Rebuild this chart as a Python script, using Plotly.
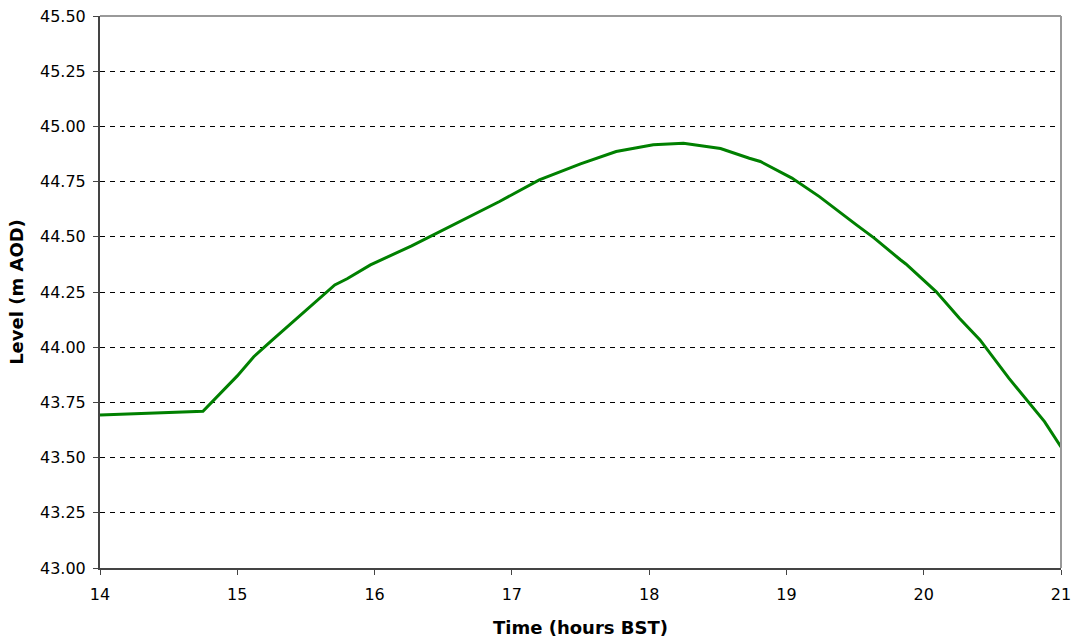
import plotly.graph_objects as go

time_hours = [14.0, 14.75, 15.0, 15.12, 15.25, 15.46, 15.71, 15.80, 15.97, 16.27, 16.5,
              16.91, 17.2, 17.5, 17.76, 18.03, 18.25, 18.52, 18.73, 18.81, 19.04, 19.24,
              19.51, 19.64, 19.83, 19.87, 20.09, 20.26, 20.41, 20.62, 20.88, 21.0]
level_m_aod = [43.693, 43.71, 43.87, 43.957, 44.03, 44.146, 44.282, 44.31, 44.373, 44.459, 44.53,
               44.66, 44.758, 44.83, 44.886, 44.917, 44.924, 44.90, 44.856, 44.841, 44.766, 44.682,
               44.554, 44.494, 44.396, 44.377, 44.252, 44.131, 44.033, 43.86, 43.663, 43.548]

x_ticks = [14, 15, 16, 17, 18, 19, 20, 21]
y_ticks = [43.00, 43.25, 43.50, 43.75, 44.00, 44.25, 44.50, 44.75, 45.00, 45.25, 45.50]

fig = go.Figure()
fig.add_trace(go.Scatter(x=time_hours, y=level_m_aod, mode="lines",
                         line=dict(color="#008000", width=3), showlegend=False))

font_family = "DejaVu Sans, Arial, sans-serif"
fig.update_layout(
    width=1072, height=641,
    margin=dict(l=100, r=11, t=16, b=73, autoexpand=False),
    paper_bgcolor="white", plot_bgcolor="white",
    font=dict(family=font_family, color="black", size=16),
    xaxis=dict(range=[14, 21], tickvals=x_ticks, ticktext=[str(v) for v in x_ticks],
               showgrid=False, zeroline=False, showline=True, linecolor="#444", linewidth=2,
               ticks="outside", ticklen=5, tickcolor="#444", tickwidth=1,
               ticklabelstandoff=6, automargin=False, ticklabeloverflow="allow",
               title=dict(text="<b>Time (hours BST)</b>", font=dict(size=18), standoff=18)),
    yaxis=dict(range=[43.0, 45.5], tickvals=y_ticks, ticktext=[f"{v:.2f}" for v in y_ticks],
               showgrid=True, gridcolor="black", gridwidth=1, griddash="5px,5px",
               zeroline=False, showline=True, linecolor="#444", linewidth=2,
               ticks="outside", ticklen=5, tickcolor="#444", tickwidth=1,
               ticklabelstandoff=4, automargin=False, ticklabeloverflow="allow",
               title=dict(text="<b>Level (m AOD)</b>", font=dict(size=18), standoff=12)),
)
# plot-area border (top and right) in light grey
fig.add_shape(type="line", xref="paper", yref="paper", x0=0, x1=1, y0=1, y1=1,
              line=dict(color="#999", width=2))
fig.add_shape(type="line", xref="paper", yref="paper", x0=1, x1=1, y0=0, y1=1,
              line=dict(color="#999", width=2))

fig.write_html("out.html", config={"displayModeBar": False},
               post_script="document.body.style.margin='0px';document.body.style.overflow='hidden';")
